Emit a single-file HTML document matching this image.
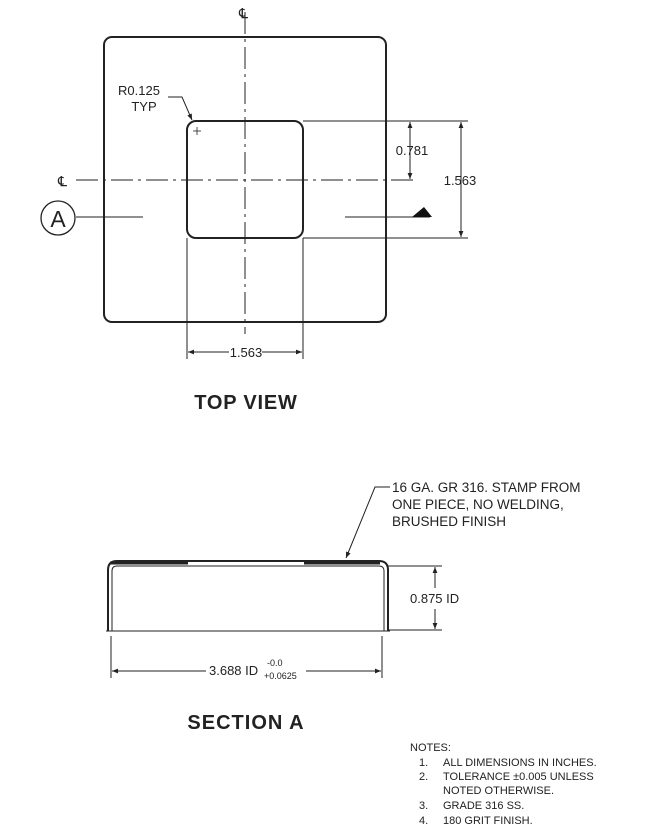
<!DOCTYPE html>
<html><head><meta charset="utf-8"><style>
body{margin:0;background:#fff;}
svg{display:block;font-family:"Liberation Sans",Arial,sans-serif;}
</style></head><body>
<svg width="650" height="832" viewBox="0 0 650 832" xmlns="http://www.w3.org/2000/svg">
<defs>
<marker id="ar" viewBox="0 0 10 10" refX="10" refY="5" markerWidth="9" markerHeight="6" orient="auto-start-reverse" markerUnits="userSpaceOnUse"><path d="M0,1 L10,5 L0,9 z" fill="#222"/></marker>
</defs>
<g stroke="#222" fill="none">
<rect x="104" y="37" width="282" height="285" rx="8" stroke-width="2"/>
<rect x="187" y="121" width="116" height="117" rx="9" stroke-width="2"/>
<line x1="245" y1="12" x2="245" y2="334" stroke-width="1" stroke-dasharray="22,5,3,5"/>
<line x1="76" y1="180" x2="415" y2="180" stroke-width="1" stroke-dasharray="22,5,3,5"/>
<line x1="303" y1="121" x2="468" y2="121" stroke-width="1"/>
<line x1="303" y1="238" x2="468" y2="238" stroke-width="1"/>
<line x1="410" y1="122" x2="410" y2="179" stroke-width="1" marker-start="url(#ar)" marker-end="url(#ar)"/>
<line x1="461" y1="122" x2="461" y2="237" stroke-width="1" marker-start="url(#ar)" marker-end="url(#ar)"/>
<line x1="187" y1="238" x2="187" y2="359" stroke-width="1"/>
<line x1="303" y1="238" x2="303" y2="359" stroke-width="1"/>
<line x1="188" y1="352" x2="229" y2="352" stroke-width="1" marker-start="url(#ar)"/>
<line x1="262" y1="352" x2="302" y2="352" stroke-width="1" marker-end="url(#ar)"/>
<circle cx="58" cy="218" r="17" stroke-width="1.3"/>
<line x1="76" y1="217" x2="143" y2="217" stroke-width="1"/>
<line x1="345" y1="217" x2="430" y2="217" stroke-width="1"/>
<path d="M168,97 L182,97 L192,120" stroke-width="1" marker-end="url(#ar)"/>
<line x1="193" y1="131" x2="201" y2="131" stroke-width="0.8"/>
<line x1="197" y1="127" x2="197" y2="135" stroke-width="0.8"/>
<path d="M108,631 L108,570 Q108,561 117,561 L379,561 Q388,561 388,570 L388,631" stroke-width="2"/>
<path d="M112,631 L112,571 Q112,566 117,566 L379,566 Q384,566 384,571 L384,631" stroke-width="1"/>
<line x1="106" y1="631" x2="390" y2="631" stroke-width="1"/>
<line x1="110" y1="563" x2="188" y2="563" stroke-width="3"/>
<line x1="304" y1="563" x2="380" y2="563" stroke-width="3"/>
<line x1="388" y1="566" x2="442" y2="566" stroke-width="1"/>
<line x1="388" y1="630" x2="442" y2="630" stroke-width="1"/>
<line x1="435" y1="567" x2="435" y2="588" stroke-width="1" marker-start="url(#ar)"/>
<line x1="435" y1="609" x2="435" y2="629" stroke-width="1" marker-end="url(#ar)"/>
<line x1="111" y1="636" x2="111" y2="678" stroke-width="1"/>
<line x1="382" y1="636" x2="382" y2="678" stroke-width="1"/>
<line x1="112" y1="671" x2="206" y2="671" stroke-width="1" marker-start="url(#ar)"/>
<line x1="306" y1="671" x2="381" y2="671" stroke-width="1" marker-end="url(#ar)"/>
<path d="M390,487 L375,487 L346,558" stroke-width="1" marker-end="url(#ar)"/>
</g>
<path d="M412,217 L424,207 L432,217 z" fill="#111"/>
<g fill="#222" font-size="13">
<text x="239" y="18" font-size="14">℄</text>
<text x="58" y="186" font-size="14">℄</text>
<text x="58" y="227" text-anchor="middle" font-size="23">A</text>
<text x="139" y="95" text-anchor="middle">R0.125</text>
<text x="144" y="111" text-anchor="middle">TYP</text>
<text x="412" y="155" text-anchor="middle">0.781</text>
<text x="460" y="185" text-anchor="middle">1.563</text>
<text x="246" y="357" text-anchor="middle">1.563</text>
<text x="246" y="409" text-anchor="middle" font-size="20" font-weight="bold" letter-spacing="0.8">TOP VIEW</text>
<text x="392" y="492" font-size="13.5">16 GA. GR 316. STAMP FROM</text>
<text x="392" y="509" font-size="13.5">ONE PIECE, NO WELDING,</text>
<text x="392" y="526" font-size="13.5">BRUSHED FINISH</text>
<text x="410" y="603">0.875 ID</text>
<text x="209" y="675">3.688 ID</text>
<text x="267" y="666" font-size="9">-0.0</text>
<text x="264" y="679" font-size="9">+0.0625</text>
<text x="246" y="729" text-anchor="middle" font-size="20" font-weight="bold" letter-spacing="1">SECTION A</text>
<g font-size="11">
<text x="410" y="751">NOTES:</text>
<text x="419" y="766">1.</text><text x="443" y="766">ALL DIMENSIONS IN INCHES.</text>
<text x="419" y="780">2.</text><text x="443" y="780">TOLERANCE ±0.005 UNLESS</text>
<text x="443" y="794">NOTED OTHERWISE.</text>
<text x="419" y="809">3.</text><text x="443" y="809">GRADE 316 SS.</text>
<text x="419" y="824">4.</text><text x="443" y="824">180 GRIT FINISH.</text>
</g>
</g>
</svg>
</body></html>
